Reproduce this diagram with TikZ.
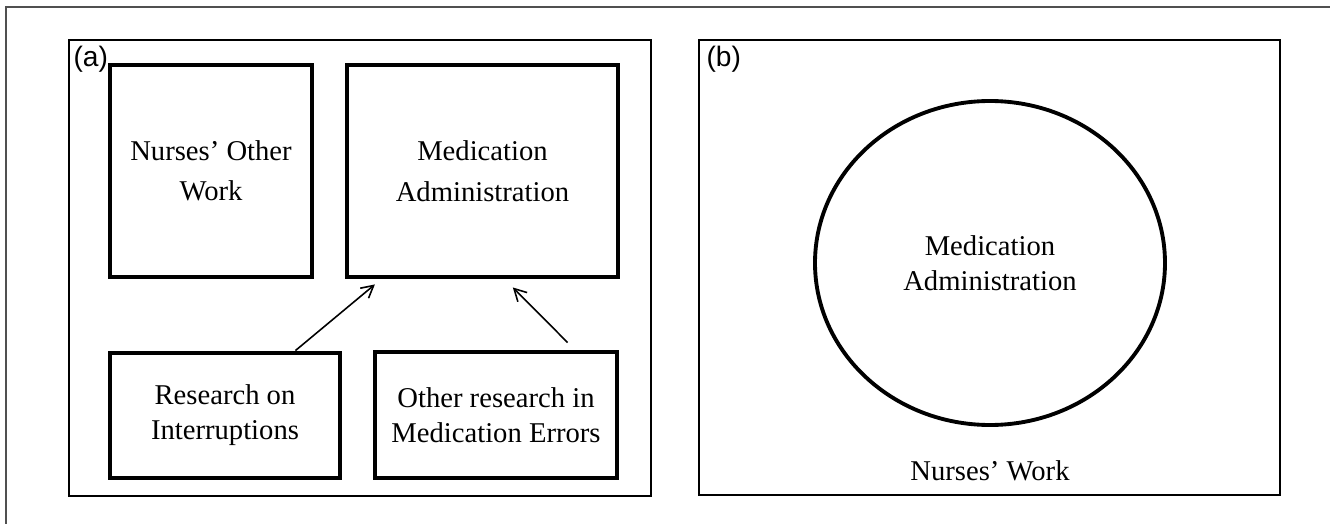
\documentclass[tikz,border=0pt]{standalone}
\usepackage{fontspec}
\setmainfont{Liberation Serif}
\newfontfamily\tagfont{Liberation Sans}
\usetikzlibrary{positioning,arrows.meta,calc,shapes.geometric}
\definecolor{FrameGray}{HTML}{505050}

\begin{document}
\begin{tikzpicture}[
    panelbox/.style={
      draw=black,
      line width=0.9pt,
      minimum width=11.64cm,
      minimum height=9.12cm,
      inner sep=0pt
    },
    taskbox/.style={
      draw=black,
      line width=2.8pt,
      minimum height=4.24cm,
      align=center,
      font=\fontsize{16.3}{23}\selectfont
    },
    studybox/.style={
      draw=black,
      line width=2.8pt,
      minimum height=2.5cm,
      align=center,
      font=\fontsize{16.3}{20}\selectfont
    },
    paneltag/.style={
      anchor=north west,
      inner sep=0pt,
      font=\tagfont\fontsize{16}{16}\selectfont
    },
    studyarrow/.style={
      -{Straight Barb[length=2.4mm,width=2.6mm]},
      line width=0.9pt
    }
  ]

  \useasboundingbox (0,0) rectangle (26.6,-10.48);

  % outer frame, only top and left edge are in view
  \draw[FrameGray, line width=0.6pt] (0.12,-10.7) -- (0.12,-0.14) -- (26.8,-0.14);

  % panels
  \node[panelbox] (panelA) at (7.2,-5.36) {};
  \node[panelbox, minimum width=11.62cm, minimum height=9.1cm] (panelB) at (19.79,-5.35) {};
  \node[paneltag] (tagA) at ($(panelA.north west)+(0.1,-0.14)$) {(a)};
  \node[paneltag] (tagB) at ($(panelB.north west)+(0.16,-0.14)$) {(b)};

  % panel (a)
  \node[taskbox, minimum width=4.04cm] (other) at (4.22,-3.42) {Nurses’ Other\\Work};
  \node[taskbox, minimum width=5.42cm] (medA) at (9.65,-3.42) {Medication\\Administration};
  \node[studybox, minimum width=4.6cm] (interr) at (4.5,-8.31) {Research on\\Interruptions};
  \node[studybox, minimum width=4.84cm, minimum height=2.52cm] (errors) at (9.92,-8.3) {Other research in\\Medication Errors};

  \coordinate (interrTop) at ($(interr.north west)!0.8!(interr.north east)$);
  \coordinate (errorsTop) at ($(errors.north west)!0.79!(errors.north east)+(0,0.14)$);
  \coordinate (medLeft) at ($(medA.south west)!0.11!(medA.south east)+(0,-0.1)$);
  \coordinate (medRight) at ($(medA.south west)!0.61!(medA.south east)+(0,-0.16)$);
  \draw[studyarrow] (interrTop) -- (medLeft);
  \draw[studyarrow] (errorsTop) -- (medRight);

  % panel (b)
  \node[ellipse, draw=black, line width=2.2pt, minimum width=7cm, minimum height=6.48cm,
    align=center, font=\fontsize{16.3}{20}\selectfont] (medB) at (19.8,-5.26) {Medication\\Administration};
  \node[anchor=base, font=\fontsize{16.3}{20}\selectfont] (work) at (19.8,-9.6) {Nurses’ Work};

\end{tikzpicture}
\end{document}
